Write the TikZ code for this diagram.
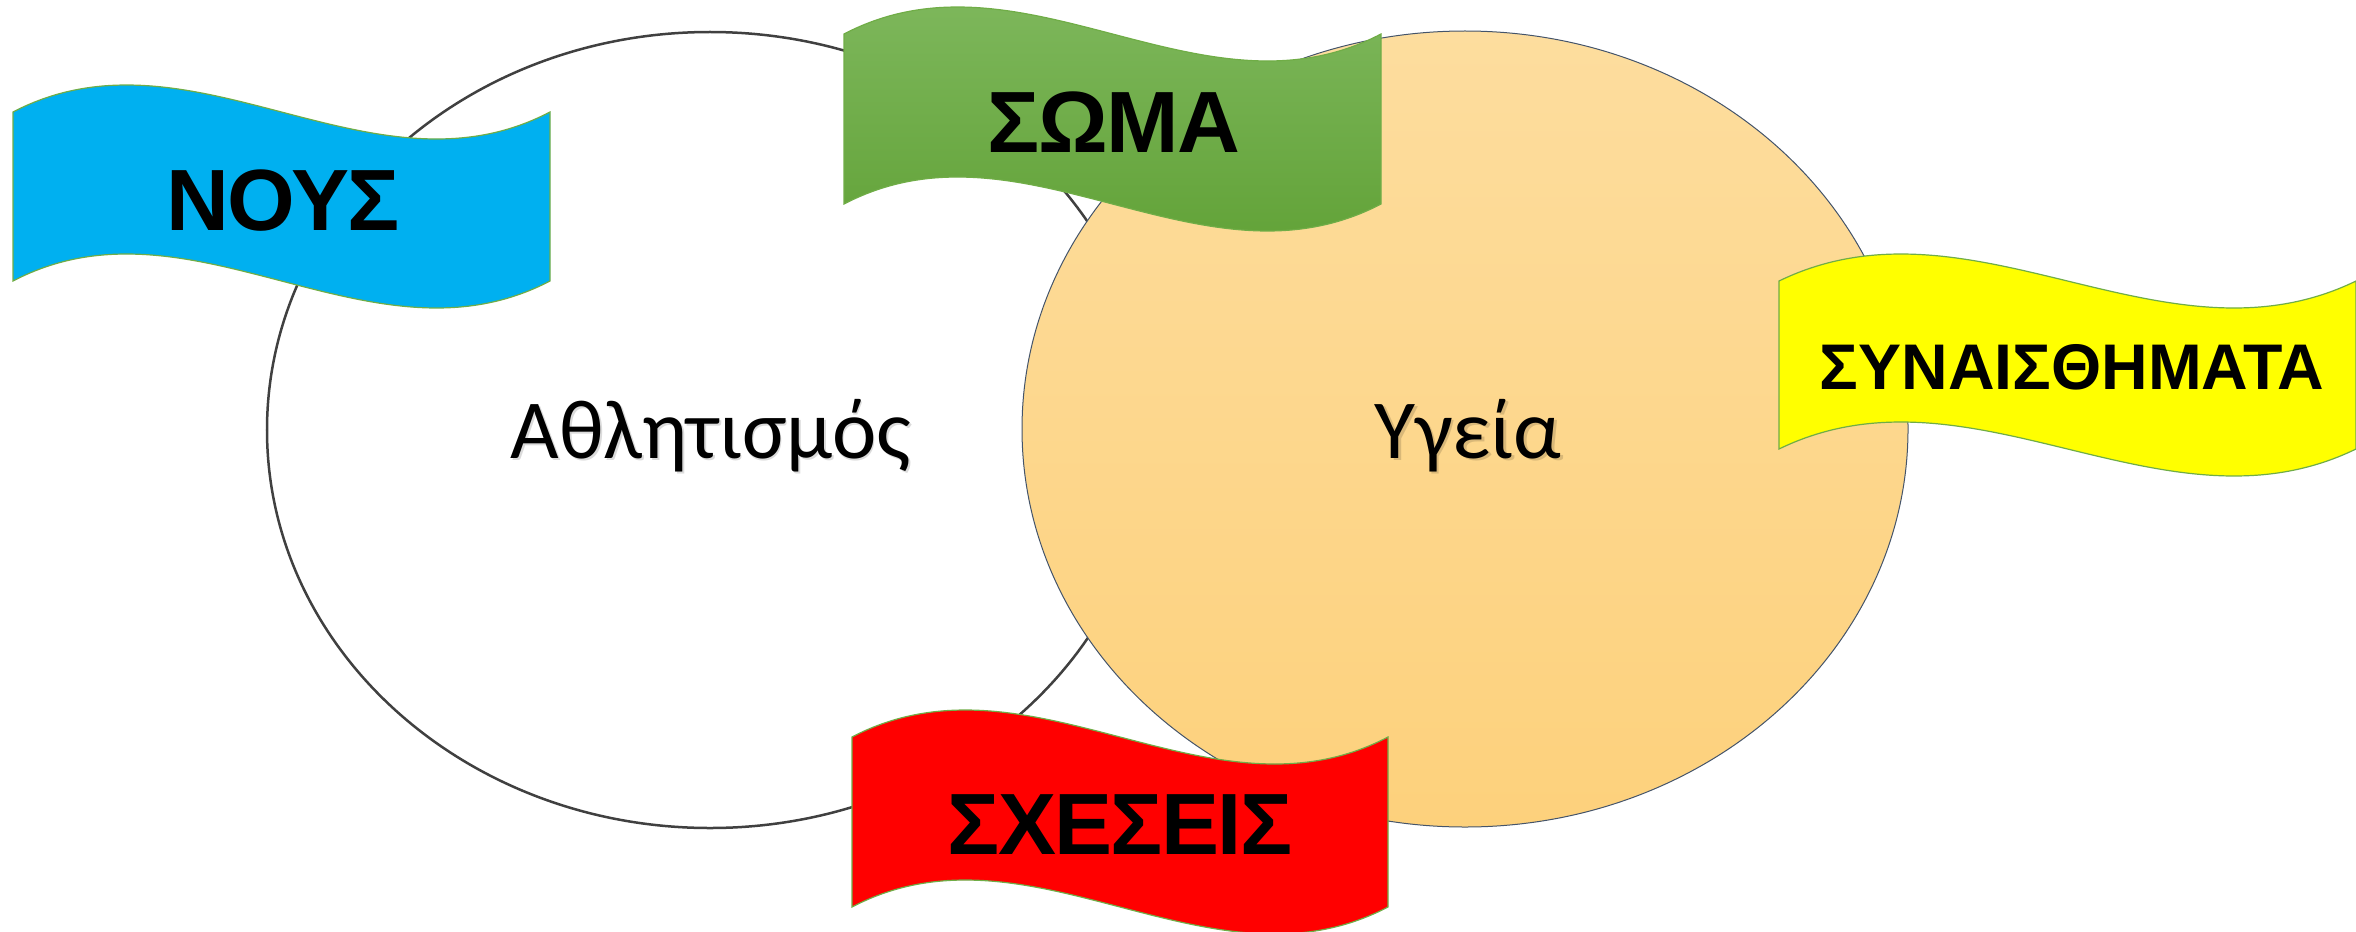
\documentclass[tikz,border=0pt]{standalone}
\usepackage{fontspec}
\setmainfont{Carlito}
\newfontfamily\bannerfont{Liberation Sans}[LetterSpace=-2]
\newfontfamily\widebannerfont{Liberation Sans}
\usetikzlibrary{shapes.geometric}

\definecolor{rimgray}{RGB}{64,64,64}
\definecolor{peachtop}{RGB}{253,221,158}
\definecolor{peachbot}{RGB}{253,209,124}
\definecolor{slateline}{RGB}{68,84,106}
\definecolor{bannerrim}{RGB}{112,173,71}
\definecolor{skyblue}{RGB}{0,176,240}
\definecolor{leaftop}{RGB}{132,188,100}
\definecolor{leafbot}{RGB}{92,158,48}
\definecolor{signred}{RGB}{255,0,0}
\definecolor{signyellow}{RGB}{255,255,0}

% wave-shaped banner: left edge, top corner, width, side height, style
\newcommand\wavebanner[5]{%
  \path[#5] (#1,#2)
    .. controls ({#1+#3/3},{#2-93.5}) and ({#1+2*#3/3},{#2+93.5}) .. ({#1+#3},#2)
    -- ({#1+#3},{#2+#4})
    .. controls ({#1+2*#3/3},{#2+#4+93.5}) and ({#1+#3/3},{#2+#4-93.5}) .. (#1,{#2+#4})
    -- cycle;}

\tikzset{
  bodytext/.style={font=\fontsize{84bp}{100bp}\selectfont, inner sep=0pt, anchor=base},
  bodyshade/.style={bodytext, text=black, opacity=0.14},
  bannertext/.style={font=\bannerfont\bfseries\fontsize{87bp}{100bp}\selectfont, inner sep=0pt, anchor=base},
  smallbannertext/.style={bannertext, font=\widebannerfont\bfseries\fontsize{64.5bp}{80bp}\selectfont},
  banner/.style={draw=bannerrim, line width=1.2bp},
  bubble/.style={ellipse, inner sep=0pt, minimum width=886bp, minimum height=796bp},
}

\begin{document}
\begin{tikzpicture}[x=1bp, y=-1bp]
\useasboundingbox (0,0) rectangle (2356,931);
\clip (0,0) rectangle (2356,931);

% left bubble
\node[bubble, draw=rimgray, line width=2.5bp, fill=white] (sportbubble) at (710,430) {};
\node[bodyshade] (sportshade) at (712.5,460.5) {Αθλητισμός};
\node[bodytext] (sport) at (711,458) {Αθλητισμός};

% right bubble
\node[bubble, draw=slateline, line width=1bp, top color=peachtop, bottom color=peachbot] (healthbubble) at (1465,429) {};
\node[bodyshade] (healthshade) at (1470.5,460.5) {Υγεία};
\node[bodytext] (health) at (1468,458) {Υγεία};

% banners
\wavebanner{13}{112}{537}{169}{banner, fill=skyblue}
\node[bannertext] (mind) at (283,230) {ΝΟΥΣ};

\wavebanner{844}{34}{537}{170}{banner, top color=leaftop, bottom color=leafbot}
\node[bannertext] (body) at (1114,152) {ΣΩΜΑ};

\wavebanner{852}{737}{536}{170}{banner, fill=signred}
\node[bannertext] (relations) at (1120,854) {ΣΧΕΣΕΙΣ};

\wavebanner{1779}{281}{577}{168}{banner, fill=signyellow}
\node[smallbannertext] (emotions) at (2072,389) {ΣΥΝΑΙΣΘΗΜΑΤΑ};

\end{tikzpicture}
\end{document}
